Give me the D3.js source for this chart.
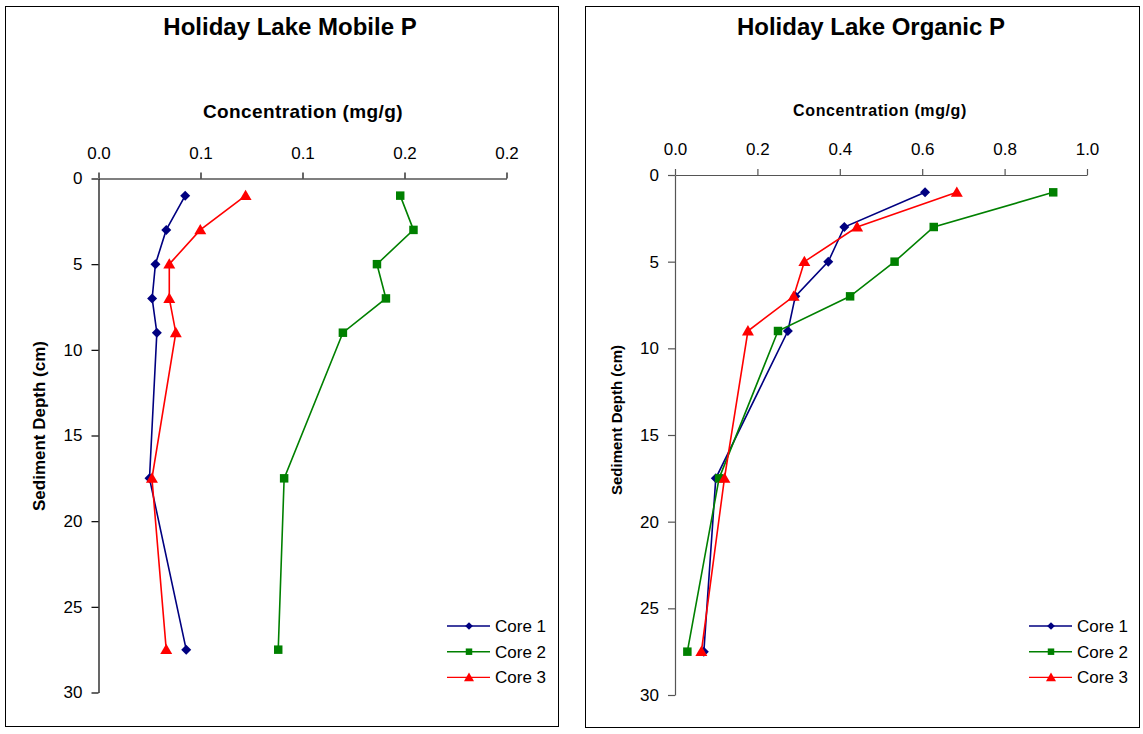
<!DOCTYPE html>
<html>
<head>
<meta charset="utf-8">
<script src="https://cdn.jsdelivr.net/npm/d3@7"></script>
<style>
  body { margin: 0; background: #fff; }
  svg text { font-family: "Liberation Sans", Arial, sans-serif; }
</style>
</head>
<body>
<svg id="chart" width="1143" height="734"></svg>
<script>
// depths sampled (cm)
const depths = [1, 3, 5, 7, 9, 17.5, 27.5];
const seriesNames = ["Core 1", "Core 2", "Core 3"];

// Mobile P (mg/g)
const mobileCore1 = [0.0425, 0.0332, 0.0279, 0.0263, 0.0286, 0.0250, 0.0430];
const mobileCore2 = [0.1479, 0.1544, 0.1365, 0.1409, 0.1198, 0.0910, 0.0881];
const mobileCore3 = [0.0721, 0.0499, 0.0347, 0.0347, 0.0379, 0.0262, 0.0332];
const mobileTicks = [0, 0.05, 0.1, 0.15, 0.2];
const mobileTickLabels = ["0.0", "0.1", "0.1", "0.2", "0.2"];

// Organic P (mg/g)
const organicCore1 = [0.607, 0.411, 0.372, 0.292, 0.274, 0.099, 0.070];
const organicCore2 = [0.918, 0.628, 0.533, 0.425, 0.250, 0.107, 0.030];
const organicCore3 = [0.684, 0.442, 0.314, 0.288, 0.177, 0.120, 0.064];
const organicTicks = [0, 0.2, 0.4, 0.6, 0.8, 1.0];
const organicTickLabels = ["0.0", "0.2", "0.4", "0.6", "0.8", "1.0"];

const depthTicks = [0, 5, 10, 15, 20, 25, 30];

const colors = ["#000080", "#008000", "#FF0000"];

const svg = d3.select("#chart");

// diamond = square turned 45 degrees
function marker(sel, i, big) {
  if (i === 0) {
    sel.attr("d", d3.symbol().type(d3.symbolSquare).size(big ? 50 : 30)())
      .attr("transform", function () { return d3.select(this).attr("transform") + "rotate(45)"; });
  } else if (i === 1) {
    sel.attr("d", d3.symbol().type(d3.symbolSquare).size(big ? 72 : 42)());
  } else {
    sel.attr("d", d3.symbol().type(d3.symbolTriangle).size(big ? 62 : 44)());
  }
}

function drawPanel(p) {
  const g = svg.append("g");

  g.append("rect")
    .attr("x", p.box[0]).attr("y", p.box[1])
    .attr("width", p.box[2]).attr("height", p.box[3])
    .attr("fill", "#fff").attr("stroke", "#000").attr("stroke-width", 1);

  const x = d3.scaleLinear().domain(p.xDomain).range([p.x0, p.x1]);
  const y = d3.scaleLinear().domain([0, 30]).range([p.y0, p.y1]);

  // title
  g.append("text")
    .attr("x", p.titleX).attr("y", 35)
    .attr("text-anchor", "middle")
    .style("font-size", "24px").style("font-weight", "bold")
    .text(p.title);

  // x axis title
  g.append("text")
    .attr("x", p.xTitleX).attr("y", p.xTitleY)
    .attr("text-anchor", "middle")
    .style("font-size", p.xTitleSize + "px").style("font-weight", "bold")
    .style("letter-spacing", p.xTitleSpacing + "px")
    .text("Concentration (mg/g)");

  // y axis title
  g.append("text")
    .attr("transform", "translate(" + p.yTitleX + "," + p.yTitleY + ")rotate(-90)")
    .attr("text-anchor", "middle")
    .style("font-size", p.yTitleSize + "px").style("font-weight", "bold")
    .text("Sediment Depth (cm)");

  const xAxis = g.append("g")
    .attr("transform", "translate(0," + p.y0 + ")")
    .call(d3.axisTop(x).tickValues(p.ticks)
      .tickFormat((d, i) => p.tickLabels[i]).tickSize(6).tickSizeOuter(0).tickPadding(14));
  const yAxis = g.append("g")
    .attr("transform", "translate(" + p.x0 + ",0)")
    .call(d3.axisLeft(y).tickValues(depthTicks).tickSize(7).tickSizeOuter(0).tickPadding(9));

  [xAxis, yAxis].forEach(a => {
    a.select(".domain").attr("stroke", p.axisColor).attr("stroke-width", 1.2);
    a.selectAll(".tick line").attr("stroke", p.axisColor).attr("stroke-width", 1.2);
    a.selectAll(".tick text")
      .style("font-size", "17px").attr("fill", "#000")
      .style("font-family", '"Liberation Sans", Arial, sans-serif');
  });

  const line = d3.line().x(d => x(d[0])).y(d => y(d[1]));

  p.series.forEach((vals, si) => {
    const pts = vals.map((v, i) => [v, depths[i]]);
    g.append("path")
      .datum(pts)
      .attr("d", line)
      .attr("fill", "none")
      .attr("stroke", colors[si])
      .attr("stroke-width", 1.6);
    g.selectAll(".m" + si)
      .data(pts)
      .enter()
      .append("path")
      .attr("transform", d => "translate(" + x(d[0]) + "," + (y(d[1]) + (si === 2 ? 1 : 0)) + ")")
      .attr("fill", colors[si])
      .call(marker, si, true);
  });

  // legend
  seriesNames.forEach((name, i) => {
    const ly = p.legendY + i * 25.7;
    g.append("line")
      .attr("x1", p.legendX).attr("x2", p.legendX + 43)
      .attr("y1", ly).attr("y2", ly)
      .attr("stroke", colors[i]).attr("stroke-width", 1.4);
    g.append("path")
      .attr("transform", "translate(" + (p.legendX + 22) + "," + (ly + (i === 2 ? 1 : 0)) + ")")
      .attr("fill", colors[i])
      .call(marker, i, false);
    g.append("text")
      .attr("x", p.legendX + 48).attr("y", ly + 6)
      .style("font-size", "17px")
      .text(name);
  });
}

drawPanel({
  box: [5.5, 6.5, 553, 720],
  title: "Holiday Lake Mobile P",
  titleX: 290,
  xTitleX: 303, xTitleY: 118, xTitleSize: 19, xTitleSpacing: 0.4,
  yTitleX: 45, yTitleY: 426, yTitleSize: 17,
  xDomain: [0, 0.2], x0: 98.5, x1: 506.5,
  y0: 178.5, y1: 692.5,
  ticks: mobileTicks, tickLabels: mobileTickLabels,
  axisColor: "#000",
  series: [mobileCore1, mobileCore2, mobileCore3],
  legendX: 447, legendY: 626
});

drawPanel({
  box: [585.5, 6.5, 554, 721],
  title: "Holiday Lake Organic P",
  titleX: 871,
  xTitleX: 880, xTitleY: 116, xTitleSize: 16, xTitleSpacing: 0.6,
  yTitleX: 622, yTitleY: 420, yTitleSize: 15,
  xDomain: [0, 1], x0: 675, x1: 1087,
  y0: 175, y1: 695,
  ticks: organicTicks, tickLabels: organicTickLabels,
  axisColor: "#555",
  series: [organicCore1, organicCore2, organicCore3],
  legendX: 1029, legendY: 626
});
</script>
</body>
</html>
